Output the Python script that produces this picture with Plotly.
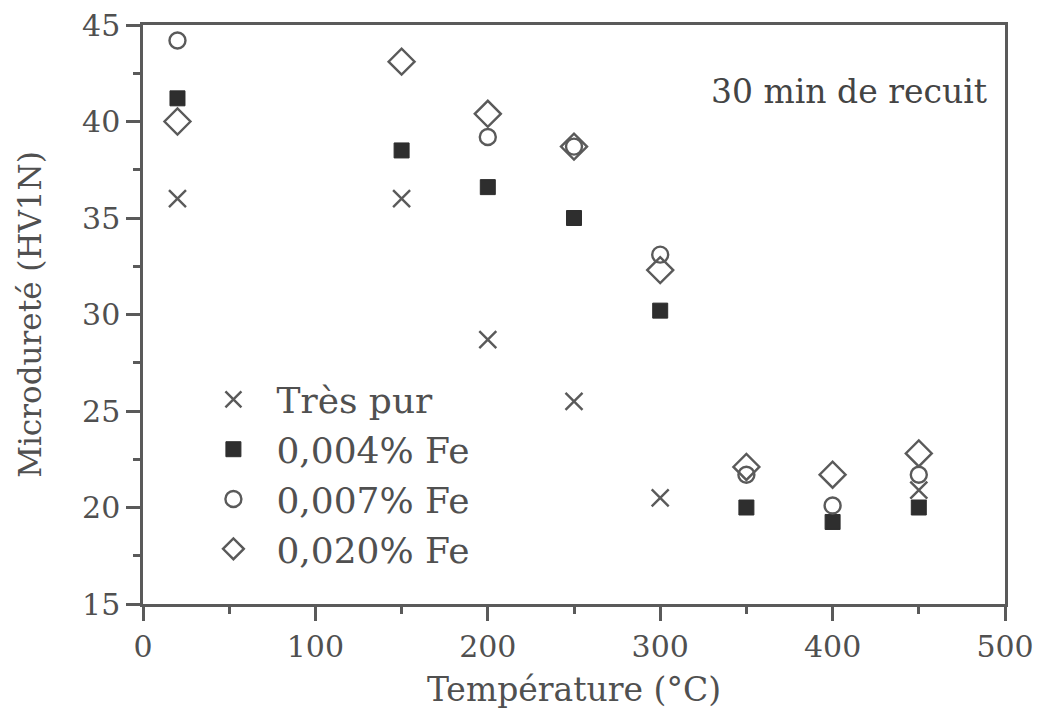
import plotly.graph_objects as go

temps_pur = [20, 150, 200, 250, 300, 450]
hv_pur = [36.0, 36.0, 28.7, 25.5, 20.5, 20.9]

temps_004 = [20, 150, 200, 250, 300, 350, 400, 450]
hv_004 = [41.2, 38.5, 36.6, 35.0, 30.2, 20.0, 19.25, 20.0]

temps_007 = [20, 200, 250, 300, 350, 400, 450]
hv_007 = [44.2, 39.2, 38.7, 33.1, 21.7, 20.1, 21.7]

temps_020 = [20, 150, 200, 250, 300, 350, 400, 450]
hv_020 = [40.0, 43.1, 40.4, 38.7, 32.3, 22.1, 21.7, 22.8]

names = ["Très pur", "0,004% Fe", "0,007% Fe", "0,020% Fe"]
FONT = "DejaVu Serif"
GREY = "#5a5a5a"
TXT = "#505050"

fig = go.Figure()
fig.add_trace(go.Scatter(x=temps_pur, y=hv_pur, mode="markers", name=names[0],
                         marker=dict(symbol="x-thin", size=17, line=dict(color=GREY, width=2.4))))
fig.add_trace(go.Scatter(x=temps_004, y=hv_004, mode="markers", name=names[1],
                         marker=dict(symbol="square", size=15, color="#2e2e2e", line=dict(color="#2e2e2e", width=1))))
fig.add_trace(go.Scatter(x=temps_007, y=hv_007, mode="markers", name=names[2],
                         marker=dict(symbol="circle-open", size=16, color=GREY, line=dict(color=GREY, width=2.4))))
fig.add_trace(go.Scatter(x=temps_020, y=hv_020, mode="markers", name=names[3],
                         marker=dict(symbol="diamond-open", size=20, color=GREY, line=dict(color=GREY, width=2.4))))

axis_common = dict(showline=True, linecolor=GREY, linewidth=2.5, mirror=True,
                   ticks="outside", tickcolor=GREY, tickwidth=2.5, ticklen=14,
                   showgrid=False, zeroline=False,
                   tickfont=dict(family=FONT, size=30, color=TXT))

fig.update_xaxes(range=[0, 500], tickvals=[0, 100, 200, 300, 400, 500],
                 minor=dict(ticks="outside", tickvals=[50, 150, 250, 350, 450], ticklen=7, tickwidth=2.5, tickcolor=GREY),
                 title=dict(text="Température (°C)", font=dict(family=FONT, size=33, color=TXT), standoff=16),
                 **axis_common)
fig.update_yaxes(range=[15, 45], tickvals=[15, 20, 25, 30, 35, 40, 45],
                 minor=dict(ticks="outside", tickvals=[17.5, 22.5, 27.5, 32.5, 37.5, 42.5], ticklen=7, tickwidth=2.5, tickcolor=GREY),
                 title=dict(text="Microdureté (HV1N)", font=dict(family=FONT, size=31, color=TXT), standoff=32),
                 **axis_common)

fig.add_annotation(x=0.982, y=0.885, xref="paper", yref="paper", xanchor="right", yanchor="middle",
                   text="30 min de recuit", showarrow=False,
                   font=dict(family=FONT, size=33, color="#444444"))

fig.update_layout(
    width=1040, height=714,
    margin=dict(l=143, r=35, t=25, b=110, autoexpand=False),
    plot_bgcolor="white", paper_bgcolor="white",
    legend=dict(x=0.055, y=0.405, xanchor="left", yanchor="top",
                font=dict(family=FONT, size=36, color=TXT),
                bgcolor="rgba(0,0,0,0)", tracegroupgap=0, itemwidth=76),
)

fig.write_html("out.html", config={"displayModeBar": False},
               post_script="document.body.style.margin='0px';")
